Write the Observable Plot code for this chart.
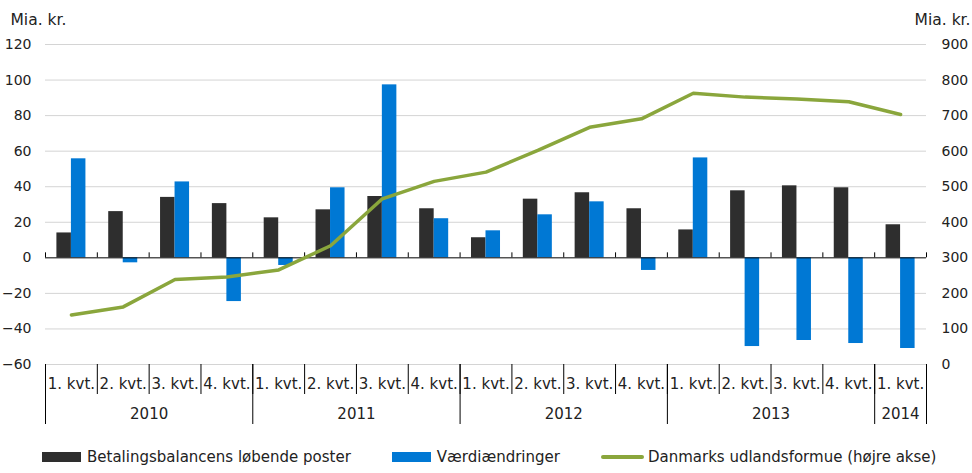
<!DOCTYPE html>
<html>
<head>
<meta charset="utf-8">
<script src="https://cdn.jsdelivr.net/npm/d3@7"></script>
<script src="https://cdn.jsdelivr.net/npm/@observablehq/plot@0.6"></script>
<style>
  body { margin: 0; background: white; font-family: "DejaVu Sans", sans-serif; }
  #legend { display: flex; align-items: center; height: 34px; padding-left: 42px; font-size: 15px; color: #222; white-space: nowrap; width: 972px; box-sizing: border-box; }
  .item { display: flex; align-items: center; margin-right: 41px; flex-shrink: 0; }
  .sw { width: 39px; height: 10px; margin-right: 6px; flex-shrink: 0; }
  .ln { width: 43px; height: 4px; margin-right: 4px; border-radius: 2px; flex-shrink: 0; }
</style>
</head>
<body>
<div id="chart"></div>
<div id="legend"></div>
<script>
const quarters = ["1. kvt.","2. kvt.","3. kvt.","4. kvt.","1. kvt.","2. kvt.","3. kvt.","4. kvt.","1. kvt.","2. kvt.","3. kvt.","4. kvt.","1. kvt.","2. kvt.","3. kvt.","4. kvt.","1. kvt."];
const years = ["2010","2010","2010","2010","2011","2011","2011","2011","2012","2012","2012","2012","2013","2013","2013","2013","2014"];
const currentAccount = [14, 26, 34, 30.5, 22.5, 27, 34.5, 27.6, 11.3, 33, 36.6, 27.6, 15.7, 37.7, 40.5, 39.4, 18.6];
const valueChanges = [55.7, -2.8, 42.7, -24.6, -4.3, 39.4, 97.3, 22, 15.2, 24.2, 31.5, -7.1, 56.2, -49.9, -46.5, -48.2, -51];
const netAssets = [139, 162, 239, 246, 266, 334, 466, 515, 541, 602, 667, 691, 763, 752, 747, 739, 703];
const leftTicks = [-60, -40, -20, 0, 20, 40, 60, 80, 100, 120];
const seriesNames = ["Betalingsbalancens løbende poster", "Værdiændringer", "Danmarks udlandsformue (højre akse)"];

const DARK = "#2e2e2e", BLUE = "#0078d4", GREEN = "#8aa63c";
const BW = 0.28; // bar width as fraction of a quarter slot

const rows = quarters.map((q, i) => ({i, q, year: years[i], cur: currentAccount[i], val: valueChanges[i], nav: netAssets[i]}));
const yearGroups = d3.groups(rows, d => d.year).map(([year, rs]) => ({year, center: d3.mean(rs, r => r.i), start: rs[0].i - 0.5}));
const boundsQ = d3.range(quarters.length + 1).map(i => i - 0.5);
const boundsY = [...yearGroups.map(g => g.start), quarters.length - 0.5];
// right axis (0..900) mapped onto left axis (-60..120)
const toLeft = v => v / 5 - 60;
const toRight = t => (t + 60) * 5;

const chart = Plot.plot({
  width: 972, height: 440,
  marginTop: 44, marginBottom: 76, marginLeft: 45, marginRight: 46,
  style: {fontFamily: "DejaVu Sans", fontSize: "14px", color: "#222", background: "white"},
  x: {domain: [-0.5, quarters.length - 0.5], axis: null},
  y: {domain: [-60, 120], axis: null},
  marks: [
    Plot.gridY(leftTicks.filter(v => v !== 0), {stroke: "#d4d4d4", strokeOpacity: 1}),
    Plot.axisY({anchor: "left", ticks: leftTicks, tickSize: 0, tickPadding: 14, label: null}),
    Plot.axisY({anchor: "right", ticks: leftTicks, tickSize: 0, tickPadding: 15, tickFormat: toRight, label: null}),
    Plot.rectY(rows, {x1: d => d.i - BW, x2: d => d.i, y1: 0, y2: "cur", fill: DARK}),
    Plot.rectY(rows, {x1: d => d.i, x2: d => d.i + BW, y1: 0, y2: "val", fill: BLUE}),
    Plot.ruleY([0], {stroke: "black"}),
    Plot.ruleX(boundsQ, {x: d => d, y1: 0, y2: 0, insetTop: -5, stroke: "black"}),
    Plot.lineY(rows, {x: "i", y: d => toLeft(d.nav), stroke: GREEN, strokeWidth: 3.5}),
    Plot.axisX({ticks: boundsQ, tickSize: 30, tickFormat: () => "", stroke: "black", strokeOpacity: 1, label: null}),
    Plot.axisX({ticks: boundsY, tickSize: 60, tickFormat: () => "", stroke: "black", strokeOpacity: 1, label: null}),
    Plot.axisX({ticks: rows.map(r => r.i), tickSize: 0, tickPadding: 14, tickFormat: i => quarters[i], fontSize: 15, label: null}),
    Plot.axisX({ticks: yearGroups.map(g => g.center), tickSize: 0, tickPadding: 44, tickFormat: c => yearGroups.find(g => g.center === c).year, fontSize: 15, label: null}),
    Plot.text(["Mia. kr."], {frameAnchor: "top-left", textAnchor: "start", lineAnchor: "bottom", dx: -35, dy: -20, fontSize: 15.5, fill: "#222"}),
    Plot.text(["Mia. kr."], {frameAnchor: "top-right", textAnchor: "end", lineAnchor: "bottom", dx: 44, dy: -20, fontSize: 15.5, fill: "#222"})
  ]
});
document.getElementById("chart").append(chart);

const legend = document.getElementById("legend");
const swatches = [
  {cls: "sw", color: DARK},
  {cls: "sw", color: BLUE},
  {cls: "ln", color: GREEN}
];
seriesNames.forEach((name, k) => {
  const item = document.createElement("div");
  item.className = "item";
  const s = document.createElement("span");
  s.className = swatches[k].cls;
  s.style.background = swatches[k].color;
  const t = document.createElement("span");
  t.textContent = name;
  item.append(s, t);
  legend.append(item);
});
</script>
</body>
</html>
